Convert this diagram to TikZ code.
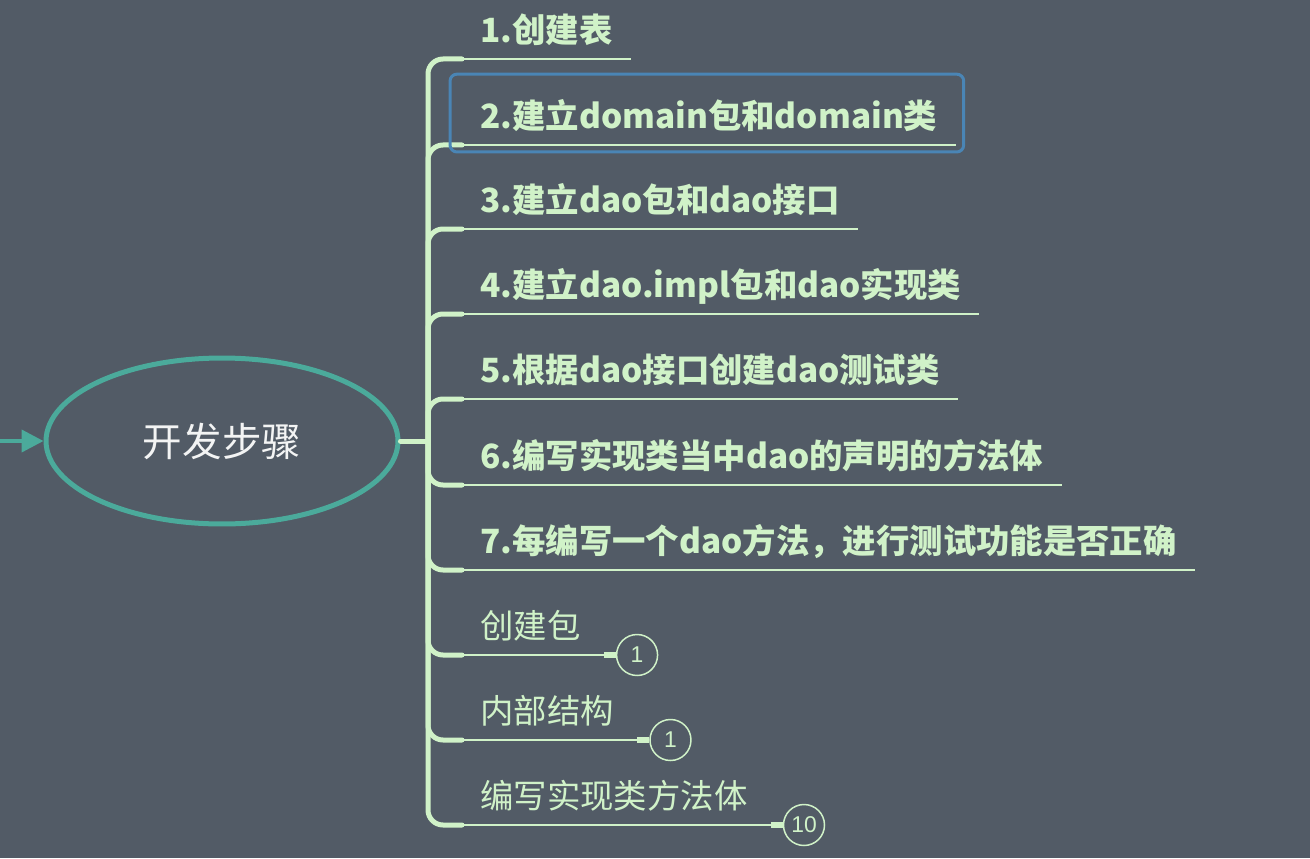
\documentclass[tikz,border=0pt]{standalone}
\usepackage{fontspec}
\newfontfamily\cjk{Noto Sans CJK SC}
\newfontfamily\digitfont{Liberation Sans}
\usepackage{xcolor}
\usetikzlibrary{arrows.meta,positioning,shapes.geometric,backgrounds,calc}
\definecolor{slate}{RGB}{82,91,102}
\definecolor{leaf}{RGB}{208,242,200}
\definecolor{sea}{RGB}{75,170,155}
\definecolor{pickblue}{RGB}{74,133,181}

\begin{document}
\begin{tikzpicture}[x=0.02cm,y=-0.02cm,
    root/.style={ellipse,draw=sea,line width=0.1cm,minimum width=7.04cm,minimum height=3.32cm,
        text=white!93!slate,font=\cjk\fontsize{22.5}{26}\selectfont},
    item/.style={anchor=south west,inner xsep=0.36cm,inner ysep=0.15cm,text height=19pt,text depth=5pt,
        text=leaf,font=\cjk\bfseries\fontsize{19}{22}\selectfont},
    plain item/.style={item,font=\cjk\fontsize{19}{22}\selectfont},
    limb/.style={draw=leaf,line width=0.1cm,line cap=round,rounded corners=0.3cm},
    underline/.style={draw=leaf,line width=0.04cm},
    badge/.style={circle,draw=leaf,line width=0.03cm,minimum size=0.82cm,inner sep=0pt,
        text=leaf,font=\digitfont\fontsize{13}{15}\selectfont},
    stub/.style={draw=leaf,line width=0.12cm},
    pick/.style={draw=pickblue,line width=0.06cm,rounded corners=0.14cm}]
    \fill[slate] (0,0) rectangle (1310,858);
    \useasboundingbox (0,0) rectangle (1310,858);

    % root and incoming arrow
    \node[root] (root) at (222,441) {开发步骤};
    \coordinate (src) at (0,441);
    \draw[sea,line width=0.08cm,-{Triangle[length=0.44cm,width=0.44cm]}] (src) -- (root.west);
    \coordinate (hub) at (428,441);
    \draw[limb] (root.east) -- (hub);

    % steps
    \node[item] (s1) at (462,59) {1.创建表};
    \node[item] (s2) at (462,145) {2.建立domain包和domain类};
    \node[item] (s3) at (462,229) {3.建立dao包和dao接口};
    \node[item] (s4) at (462,314) {4.建立dao.impl包和dao实现类};
    \node[item] (s5) at (462,399) {5.根据dao接口创建dao测试类};
    \node[item] (s6) at (462,485) {6.编写实现类当中dao的声明的方法体};
    \node[item] (s7) at (462,570) {7.每编写一个dao方法，进行测试功能是否正确};
    \node[plain item] (s8) at (462,655) {创建包};
    \node[plain item] (s9) at (462,740) {内部结构};
    \node[plain item] (s10) at (462,825) {编写实现类方法体};

    \foreach \i in {1,...,10}
        \draw[limb] (hub) |- (s\i.south west);
    \foreach \i in {1,...,7}
        \draw[underline] (s\i.south west) -- (s\i.south east);

    % note counters
    \node[badge,right=0.34cm of s8.south east] (c8) {1};
    \node[badge,right=0.34cm of s9.south east] (c9) {1};
    \node[badge,right=0.34cm of s10.south east] (c10) {10};
    \foreach \i in {8,9,10} {
        \draw[underline] (s\i.south west) -- (c\i.west);
        \draw[stub] (c\i.west) -- ++(-0.24cm,0);
    }

    % selection frame
    \draw[pick] ([xshift=-0.24cm,yshift=-0.14cm]s2.south west) rectangle ([xshift=0.16cm,yshift=0.26cm]s2.north east);
\end{tikzpicture}
\end{document}
